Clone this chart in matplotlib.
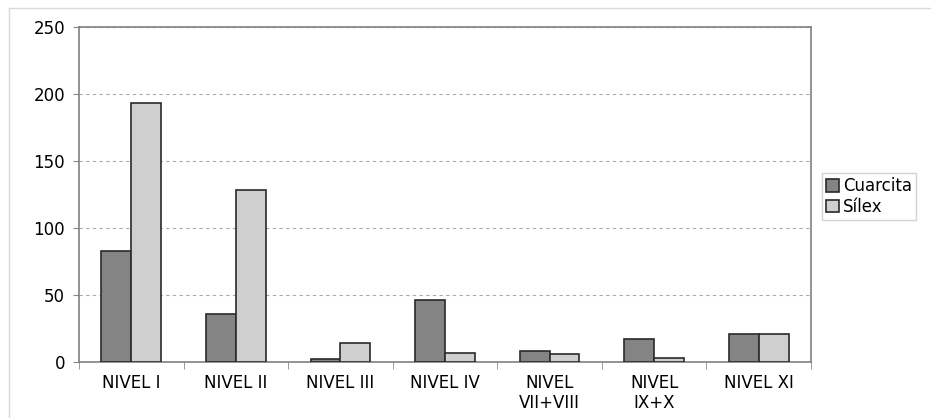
import numpy as np
import matplotlib.pyplot as plt
from matplotlib.patches import Rectangle

# Data
categories = ["NIVEL I", "NIVEL II", "NIVEL III", "NIVEL IV",
              "NIVEL\nVII+VIII", "NIVEL\nIX+X", "NIVEL XI"]
cuarcita = [83, 36, 2, 46, 8, 17, 21]
silex = [193, 128, 14, 7, 6, 3, 21]
yticks = [0, 50, 100, 150, 200, 250]

plt.rcParams["font.family"] = ["DejaVu Sans"]
fs = 12

fig = plt.figure(figsize=(9.31, 4.18), dpi=100)
ax = fig.add_axes([79 / 931, 1 - 362 / 418, (811 - 79) / 931, (362 - 27) / 418])

# outer chart frame
fig.patches.append(Rectangle((9 / 931, -0.1), 1.1, 1.1 - 8 / 418,
                             transform=fig.transFigure, fill=False,
                             edgecolor="#d9d9d9", linewidth=1))

x = np.arange(len(categories))
w = 0.286
ax.bar(x - w / 2, cuarcita, w, color="#848484", edgecolor="#2a2a2a",
       linewidth=1.2, label="Cuarcita", zorder=3)
ax.bar(x + w / 2, silex, w, color="#cfcfcf", edgecolor="#2a2a2a",
       linewidth=1.2, label="Sílex", zorder=3)

ax.set_xlim(-0.5, len(categories) - 0.5)
ax.set_ylim(0, 250)
ax.set_yticks(yticks)
ax.yaxis.grid(True, linestyle=(0, (3, 3)), color="#aaaaaa", linewidth=0.8)
ax.set_axisbelow(True)

ax.set_xticks(x)
ax.set_xticklabels(categories, fontsize=fs, linespacing=1.1)
ax.set_xticks(np.arange(len(categories) + 1) - 0.5, minor=True)
ax.tick_params(axis="x", which="major", length=0, pad=9)
ax.tick_params(axis="x", which="minor", length=5, color="#888888")
ax.tick_params(axis="y", length=4, color="#888888", labelsize=fs, pad=6)

for s in ax.spines.values():
    s.set_color("#808080")
    s.set_linewidth(1.2)

ax.legend(loc="center left", bbox_to_anchor=(822 / 931, 0.53),
          bbox_transform=fig.transFigure, frameon=True, fancybox=False,
          edgecolor="#c8c8c8", fontsize=fs, handlelength=0.75,
          handleheight=0.75, handletextpad=0.25, borderpad=0.25,
          labelspacing=0.15, borderaxespad=0)

fig.savefig("out.png", dpi=100)
